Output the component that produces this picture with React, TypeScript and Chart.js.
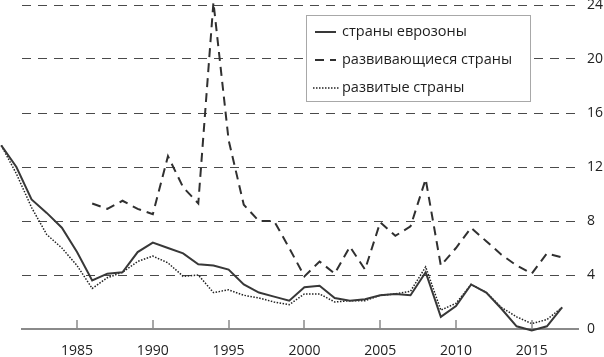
import React, { useEffect, useRef } from "react";
import { Chart, registerables } from "chart.js";

Chart.register(...registerables);

const years = [
  1980, 1981, 1982, 1983, 1984, 1985, 1986, 1987, 1988, 1989,
  1990, 1991, 1992, 1993, 1994, 1995, 1996, 1997, 1998, 1999,
  2000, 2001, 2002, 2003, 2004, 2005, 2006, 2007, 2008, 2009,
  2010, 2011, 2012, 2013, 2014, 2015, 2016, 2017,
];

const eurozone = [
  13.6, 12.0, 9.6, 8.6, 7.5, 5.7, 3.6, 4.1, 4.2, 5.7,
  6.4, 6.0, 5.6, 4.8, 4.7, 4.4, 3.3, 2.7, 2.4, 2.1,
  3.1, 3.2, 2.3, 2.1, 2.2, 2.5, 2.6, 2.5, 4.2, 0.9,
  1.7, 3.3, 2.7, 1.5, 0.2, -0.1, 0.2, 1.6,
];

const developing = [
  null, null, null, null, null, null, 9.3, 8.9, 9.5, 8.9,
  8.5, 12.8, 10.5, 9.3, 24.2, 14.0, 9.2, 8.0, 8.0, 6.0,
  3.9, 5.0, 4.1, 6.1, 4.4, 7.9, 6.9, 7.6, 11.1, 4.7,
  6.0, 7.5, 6.5, 5.5, 4.7, 4.1, 5.6, 5.3,
];

const developed = [
  13.6, 11.5, 9.0, 7.0, 6.0, 4.7, 3.0, 3.8, 4.2, 5.0,
  5.4, 4.9, 3.9, 4.0, 2.7, 2.9, 2.5, 2.3, 2.0, 1.8,
  2.6, 2.6, 2.0, 2.1, 2.1, 2.5, 2.6, 2.8, 4.6, 1.4,
  1.9, 3.3, 2.7, 1.6, 0.9, 0.4, 0.7, 1.6,
];

const seriesLabels = ["страны еврозоны", "развивающиеся страны", "развитые страны"];
const xTickValues = [1985, 1990, 1995, 2000, 2005, 2010, 2015];
const yTickValues = [0, 4, 8, 12, 16, 20, 24];
const xAxisStart = 1981.37;
const xAxisEnd = 2018.05;

const FONT = "'Open Sans', 'Noto Sans', sans-serif";

export default function App() {
  const ref = useRef<HTMLCanvasElement>(null);

  useEffect(() => {
    document.body.style.margin = "0";
    const canvas = ref.current;
    if (!canvas) return;

    const toPts = (vals: (number | null)[]) =>
      years.map((yr, i) => ({ x: yr, y: vals[i] }));

    const tickPlugin = {
      id: "innerTicks",
      afterDatasetsDraw(chart: any) {
        const { ctx, chartArea } = chart;
        const x = chart.scales.x;
        ctx.save();
        ctx.strokeStyle = "#8a8a8a";
        ctx.lineWidth = 1.5;
        xTickValues.forEach((v) => {
          const px = Math.round(x.getPixelForValue(v));
          ctx.beginPath();
          ctx.moveTo(px, chartArea.bottom);
          ctx.lineTo(px, chartArea.bottom - 9);
          ctx.stroke();
        });
        ctx.restore();
      },
    };

    const legendPlugin = {
      id: "boxLegend",
      afterDraw(chart: any) {
        const { ctx } = chart;
        ctx.save();
        ctx.fillStyle = "#ffffff";
        ctx.fillRect(306, 15, 224, 86);
        ctx.strokeStyle = "#a8a8a8";
        ctx.lineWidth = 1;
        ctx.strokeRect(306.5, 15.5, 224, 86);
        chart.data.datasets.forEach((ds: any, i: number) => {
          const y = 32 + i * 28;
          ctx.beginPath();
          ctx.setLineDash(ds.borderDash || []);
          ctx.lineWidth = ds.borderWidth;
          ctx.strokeStyle = ds.borderColor;
          ctx.moveTo(i === 2 ? 313 : 315, y);
          ctx.lineTo(i === 2 ? 340 : 336, y);
          ctx.stroke();
          ctx.setLineDash([]);
          ctx.fillStyle = "#1e1e1e";
          ctx.font = `14.5px ${FONT}`;
          ctx.textBaseline = "middle";
          ctx.fillText(ds.label, 342, y);
        });
        ctx.restore();
      },
    };

    const chart = new Chart(canvas, {
      type: "line",
      data: {
        datasets: [
          {
            label: seriesLabels[0],
            data: toPts(eurozone),
            borderColor: "#383838",
            borderWidth: 2,
            pointRadius: 0,
            tension: 0,
            fill: false,
            clip: false as any,
          },
          {
            label: seriesLabels[1],
            data: toPts(developing),
            borderColor: "#303030",
            borderWidth: 2,
            borderDash: [9, 6],
            pointRadius: 0,
            tension: 0,
            fill: false,
            spanGaps: false,
            clip: false as any,
          },
          {
            label: seriesLabels[2],
            data: toPts(developed),
            borderColor: "#222222",
            borderWidth: 1.5,
            borderDash: [1.5, 1.5],
            pointRadius: 0,
            tension: 0,
            fill: false,
            clip: false as any,
          },
        ],
      },
      options: {
        animation: false,
        responsive: true,
        maintainAspectRatio: false,
        devicePixelRatio: 1,
        layout: { padding: { left: 22, top: 5, right: 0, bottom: 0 } },
        plugins: {
          legend: { display: false },
          tooltip: { enabled: false },
        },
        scales: {
          x: {
            type: "linear",
            position: "bottom",
            bounds: "data",
            afterDataLimits: (s: any) => {
              s.min = xAxisStart;
              s.max = xAxisEnd;
            },
            afterBuildTicks: (s: any) => {
              s.min = xAxisStart;
              s.max = xAxisEnd;
              s.ticks = xTickValues.map((v) => ({ value: v }));
            },
            afterFit: (s: any) => {
              s.height = 28;
              s.paddingLeft = 0;
              s.paddingRight = 0;
            },
            grid: { display: false, drawTicks: false },
            border: { display: true, color: "#8a8a8a", width: 2 },
            ticks: {
              font: { family: FONT, size: 14 },
              color: "#222",
              padding: 14,
              maxRotation: 0,
              autoSkip: false,
              callback: (v: any) => String(v),
            },
          },
          y: {
            type: "linear",
            position: "right",
            min: 0,
            max: 24,
            afterBuildTicks: (s: any) => {
              s.ticks = yTickValues.map((v) => ({ value: v }));
            },
            afterFit: (s: any) => {
              s.width = 26;
              s.paddingTop = 0;
              s.paddingBottom = 0;
            },
            grid: {
              drawTicks: false,
              lineWidth: 1,
              color: (c: any) => (c.tick && c.tick.value === 0 ? "rgba(0,0,0,0)" : "#4a4a4a"),
            },
            border: { display: false, dash: [9, 7] },
            ticks: {
              font: { family: FONT, size: 14 },
              color: "#222",
              padding: 9,
            },
          },
        },
      },
      plugins: [tickPlugin, legendPlugin],
    });

    return () => chart.destroy();
  }, []);

  return (
    <div style={{ position: "relative", width: 604, height: 357 }}>
      <canvas ref={ref} />
    </div>
  );
}
